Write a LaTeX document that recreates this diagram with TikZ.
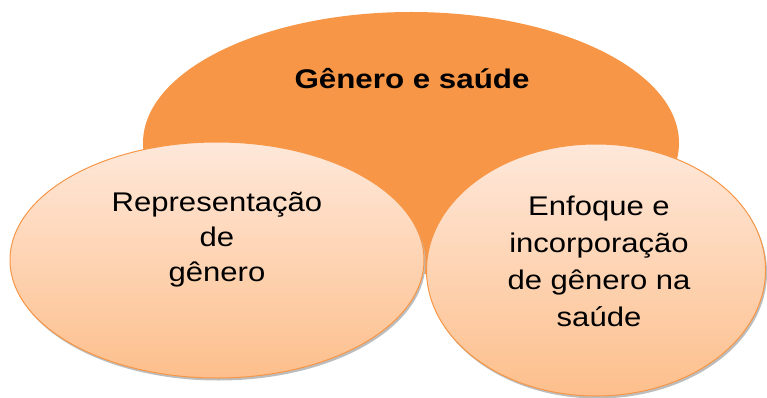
\documentclass[tikz,border=0pt]{standalone}
\usepackage{fontspec}
\setmainfont{Liberation Sans}
\definecolor{orangemain}{HTML}{F79646}
\definecolor{peachtop}{HTML}{FEE8DA}
\definecolor{peachbot}{HTML}{FDBF8C}
\definecolor{shadowgray}{HTML}{BDBDBD}
\begin{document}
\begin{tikzpicture}[x=1pt,y=1pt,
  bigellipse/.style={fill=orangemain},
  smallellipse/.style={draw=orangemain,line width=1pt,top color=peachtop,bottom color=peachbot},
  shadowellipse/.style={fill=shadowgray},
  label/.style={align=center,xscale=1.15,transform shape,inner sep=0pt},
  titlelabel/.style={font=\fontsize{27}{36}\selectfont\bfseries,xscale=1.16,transform shape,inner sep=0pt}]
\useasboundingbox (0,0) rectangle (767,-398);
% top ellipse
\fill[bigellipse] (411,-143) ellipse [x radius=268,y radius=131];
% shadows
\fill[shadowellipse] (218.5,-262.5) ellipse [x radius=207,y radius=118];
\fill[shadowellipse] (597.5,-272.5) ellipse [x radius=169.5,y radius=126];
% small ellipses
\path[smallellipse] (217,-260) ellipse [x radius=207,y radius=118];
\path[smallellipse] (596,-270) ellipse [x radius=169.5,y radius=126];
% texts
\node[titlelabel,anchor=base] (title) at (412,-88.3) {Gênero e saúde};
\node[label,font=\fontsize{27}{35}\selectfont] (left) at (217,-239.5) {Representação\\de\\gênero};
\node[label,font=\fontsize{27}{37}\selectfont] (right) at (599,-261) {Enfoque e\\incorporação\\de gênero na\\saúde};
\end{tikzpicture}
\end{document}
